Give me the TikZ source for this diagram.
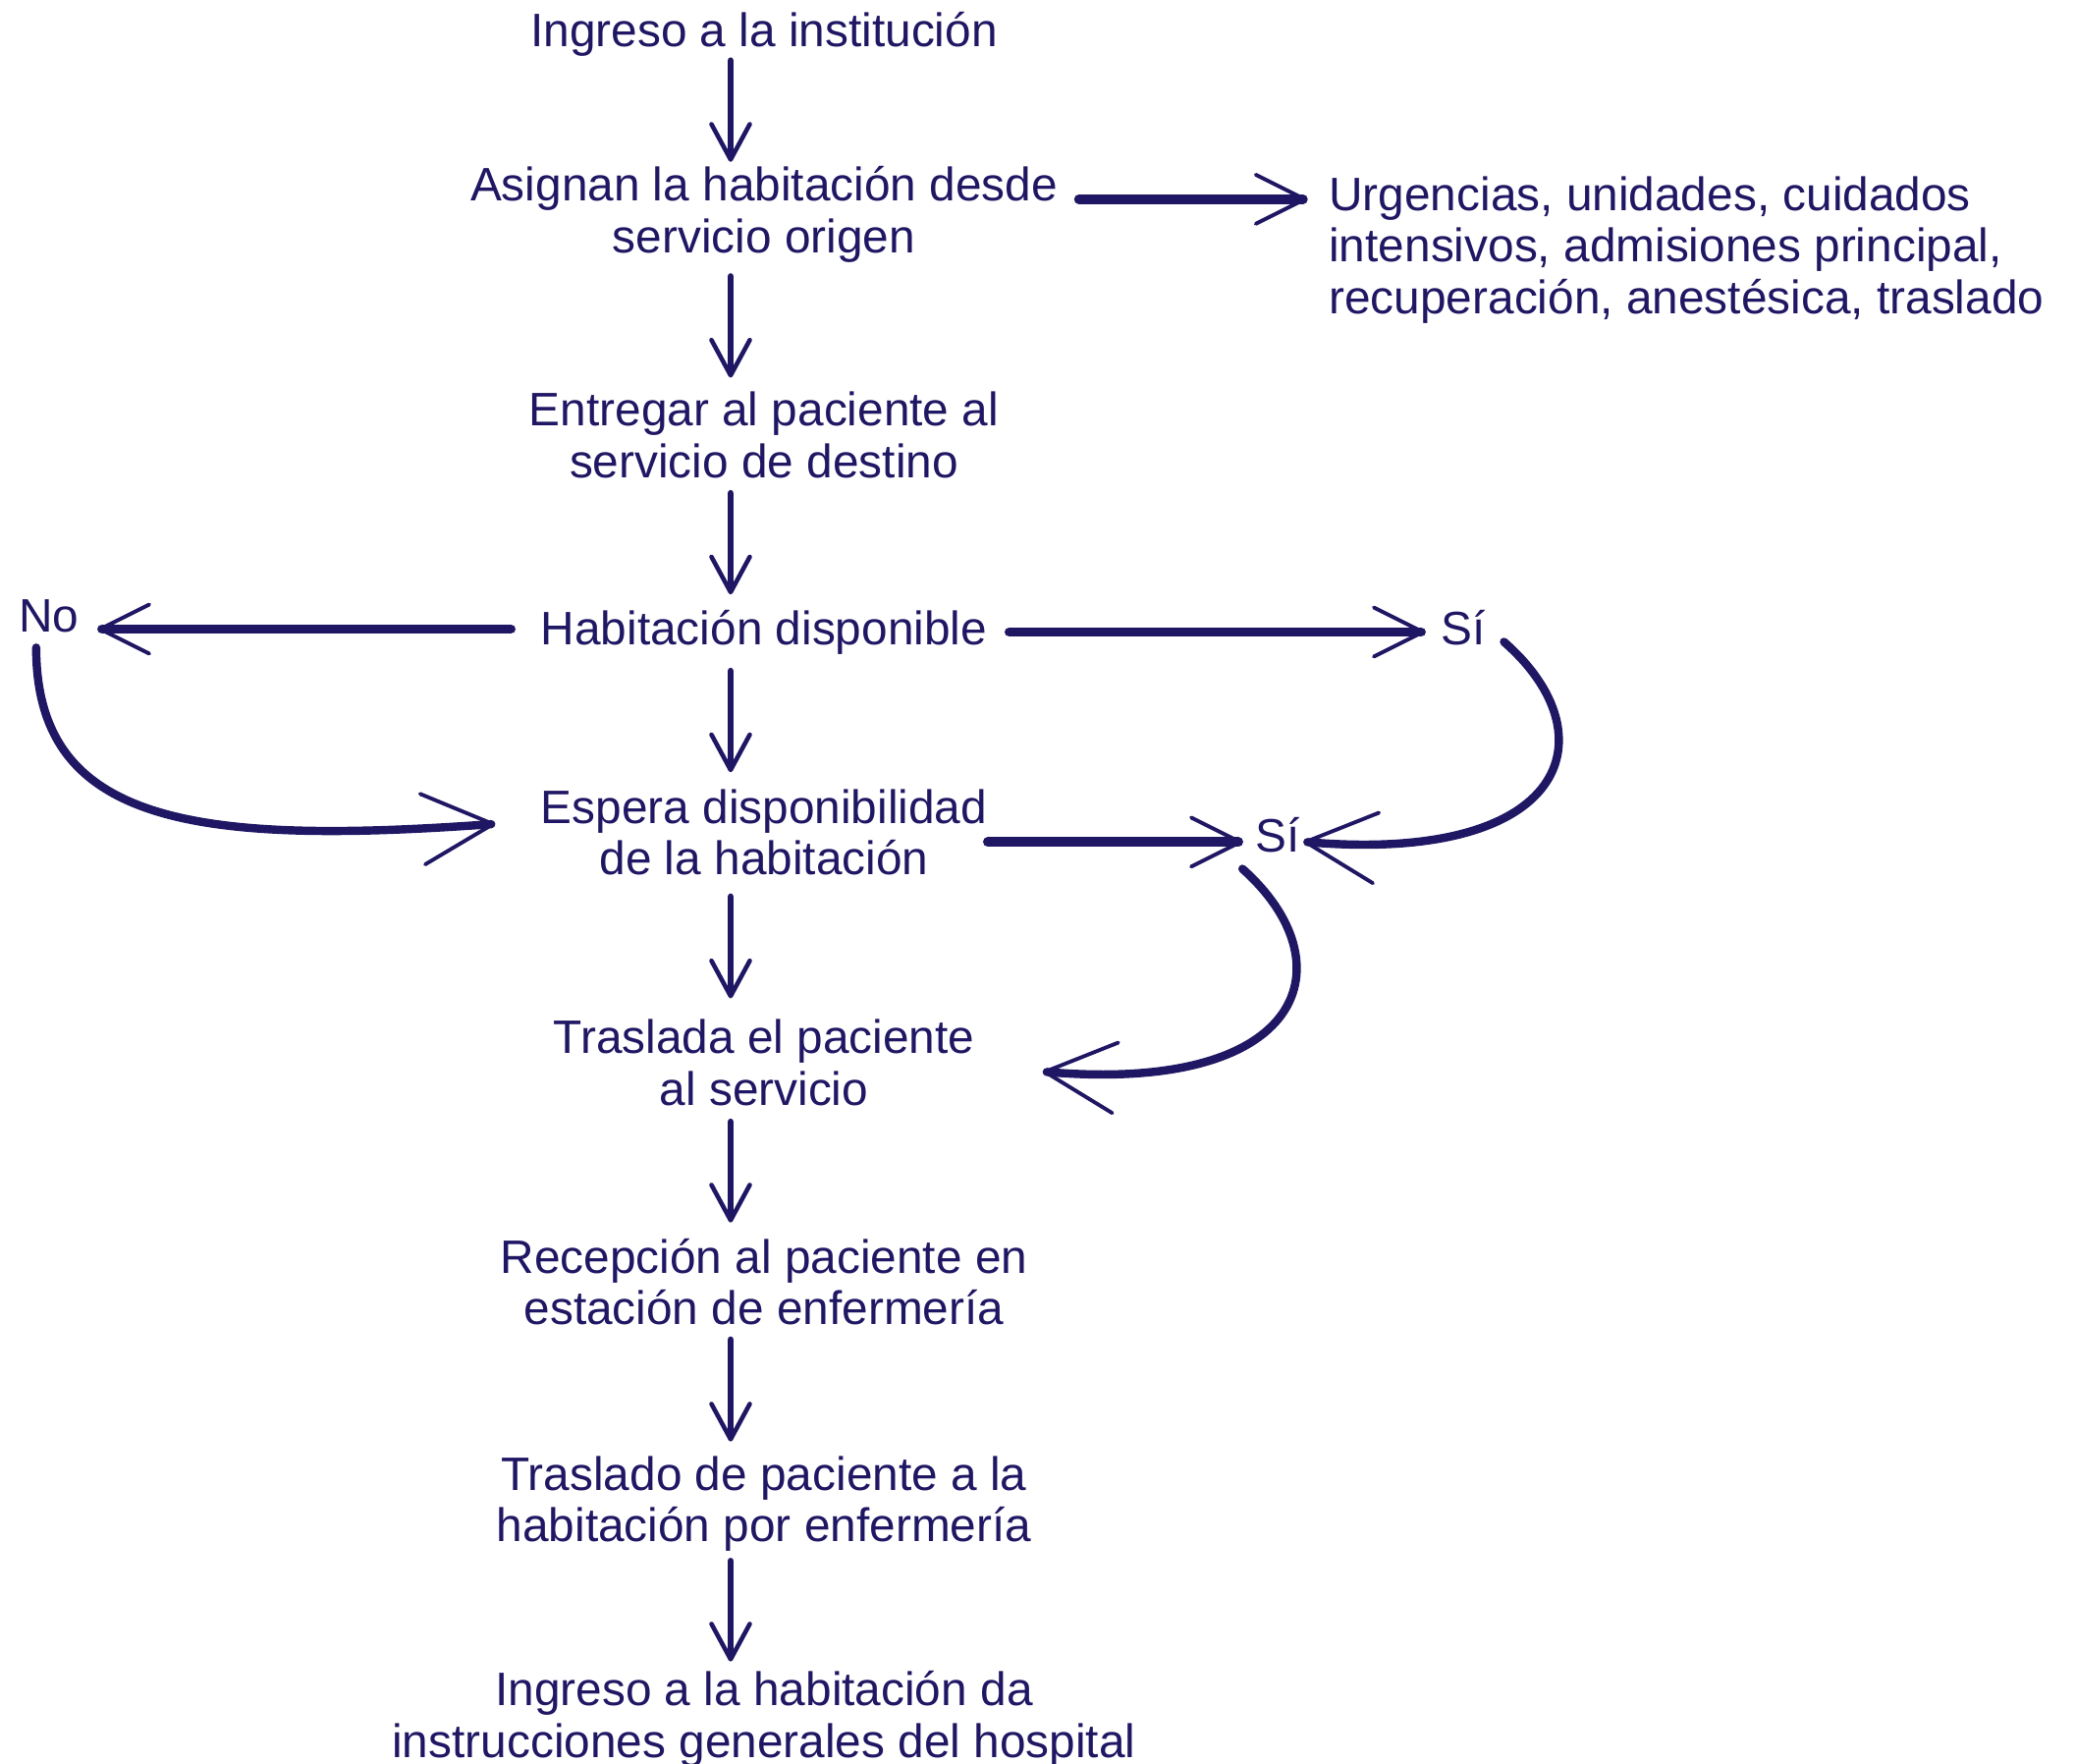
\documentclass[tikz,border=0pt]{standalone}
\usepackage{fontspec}
\setmainfont{Liberation Sans}
\usepackage{xcolor}
\usetikzlibrary{arrows.meta, positioning}

\definecolor{ink}{RGB}{31,23,99}

\begin{document}
\begin{tikzpicture}[
    every node/.style={font=\fontsize{13.6}{15}\selectfont, text=ink, inner sep=0pt},
    txt/.style={align=center},
    flow/.style={draw=ink, line width=1.9pt, line cap=round, -{Straight Barb[length=0.36cm, width=0.39cm, line width=1.3pt, round]}, shorten <=#1, shorten >=#1},
    harrow/.style={draw=ink, line width=2.8pt, line cap=round, -{Straight Barb[length=0.5cm, width=0.5cm, line width=1.1pt, round]}},
    carrow/.style={draw=ink, line width=2.4pt, line cap=round, -{Straight Barb[length=0.72cm, width=0.72cm, line width=1.1pt, round]}}
]
\useasboundingbox (0,0) rectangle (21.13,-17.96);

% Main column
\node (ingreso) [txt] at (7.78,-0.345) {Ingreso a la institución};
\node (asignan) [txt, below=1.11cm of ingreso] {Asignan la habitación desde\\servicio origen};
\node (entregar) [txt, below=1.30cm of asignan] {Entregar al paciente al\\servicio de destino};
\node (habitacion) [txt, below=1.33cm of entregar] {Habitación disponible};
\node (espera) [txt, below=1.36cm of habitacion] {Espera disponibilidad\\de la habitación};
\node (traslada) [txt, below=1.455cm of espera] {Traslada el paciente\\al servicio};
\node (recepcion) [txt, below=1.335cm of traslada] {Recepción al paciente en\\estación de enfermería};
\node (traslado) [txt, below=1.317cm of recepcion] {Traslado de paciente a la\\habitación por enfermería};
\node (ingresohab) [txt, below=1.203cm of traslado] {Ingreso a la habitación da\\instrucciones generales del hospital};

% Side nodes
\node (urgencias) [align=left, right=2.75cm of asignan, yshift=-0.36cm] {Urgencias, unidades, cuidados\\intensivos, admisiones principal,\\recuperación, anestésica, traslado};
\node (no) [left=4.69cm of habitacion, yshift=0.165cm] {No};
\node (si1) [right=4.61cm of habitacion, yshift=0.04cm] {Sí};
\node (si2) [right=2.72cm of espera, yshift=-0.027cm] {Sí};

% Arrows - main column
\draw [flow=0.04cm] ([xshift=-3.4mm]ingreso.south) -- ([xshift=-3.4mm]asignan.north);
\draw [flow=0.135cm] ([xshift=-3.4mm]asignan.south) -- ([xshift=-3.4mm]entregar.north);
\draw [flow=0.15cm] ([xshift=-3.4mm]entregar.south) -- ([xshift=-3.4mm]habitacion.north);
\draw [flow=0.165cm] ([xshift=-3.4mm]habitacion.south) -- ([xshift=-3.4mm]espera.north);
\draw [flow=0.21cm] ([xshift=-3.4mm]espera.south) -- ([xshift=-3.4mm]traslada.north);
\draw [flow=0.155cm] ([xshift=-3.4mm]traslada.south) -- ([xshift=-3.4mm]recepcion.north);
\draw [flow=0.14cm] ([xshift=-3.4mm]recepcion.south) -- ([xshift=-3.4mm]traslado.north);
\draw [flow=0.09cm] ([xshift=-3.4mm]traslado.south) -- ([xshift=-3.4mm]ingresohab.north);

% Arrows - branches
\draw [harrow, shorten <=0.21cm, shorten >=0.22cm] ([yshift=0.155cm]asignan.east) -- ([yshift=0.155cm]asignan.east -| urgencias.west);
\draw [harrow, shorten <=0.3cm, shorten >=0.19cm] ([yshift=0.03cm]habitacion.west) -- ([yshift=0.03cm]habitacion.west -| no.east);
\draw [harrow, shorten <=0.22cm, shorten >=0.16cm] (habitacion.east) -- (habitacion.east -| si1.west);
\draw [harrow, shorten >=0.13cm] ([yshift=-0.1cm]espera.east) -- ([yshift=-0.1cm]espera.east -| si2.west);

% Curved arrows
\draw [carrow] ([xshift=-0.13cm,yshift=-0.15cm]no.south) .. controls +(0,-1.8) and +(-3.05,-0.22) .. ([xshift=-0.46cm,yshift=0.085cm]espera.west);
\draw [carrow] ([xshift=0.18cm,yshift=-0.14cm]si1.east) .. controls +(1.1,-0.96) and +(2.69,-0.23) .. ([xshift=0.03cm,yshift=-0.07cm]si2.east);
\draw [carrow] ([xshift=-0.36cm,yshift=-0.16cm]si2.south) .. controls +(1.08,-0.96) and +(2.69,-0.23) .. ([xshift=0.69cm,yshift=-0.09cm]traslada.east);

\end{tikzpicture}
\end{document}
